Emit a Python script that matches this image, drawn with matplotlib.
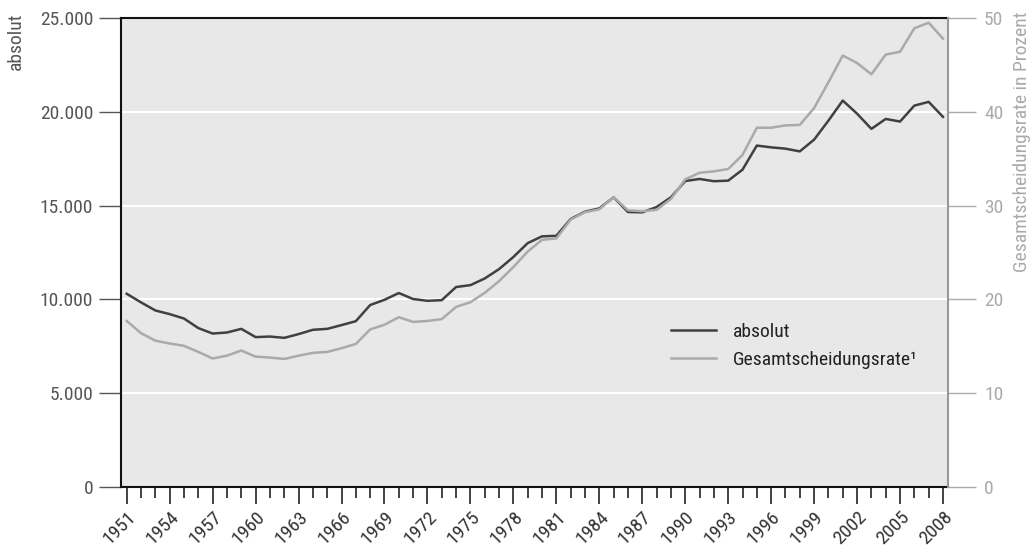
import numpy as np
import matplotlib.pyplot as plt
from matplotlib.ticker import FuncFormatter, MultipleLocator

plt.rcParams['font.family'] = ['Liberation Sans Narrow', 'Roboto Condensed',
                               'Liberation Sans', 'DejaVu Sans']

# Daten
jahre = list(range(1951, 2009))
absolut = [10300, 9840, 9410, 9215, 8980, 8470, 8180, 8235, 8430, 7990,
           8020, 7950, 8150, 8380, 8430, 8630, 8840, 9700, 9980, 10340,
           10020, 9925, 9960, 10660, 10760, 11115, 11615, 12260, 13000, 13360,
           13390, 14285, 14675, 14850, 15440, 14660, 14640, 14925, 15440, 16310,
           16420, 16300, 16330, 16915, 18200, 18105, 18035, 17890, 18515, 19530,
           20600, 19900, 19090, 19620, 19480, 20330, 20530, 19730]
rate = [17.7, 16.4, 15.6, 15.3, 15.05, 14.4, 13.7, 14.0, 14.55, 13.9,
        13.8, 13.65, 14.0, 14.3, 14.4, 14.8, 15.25, 16.8, 17.3, 18.1,
        17.6, 17.7, 17.9, 19.2, 19.7, 20.7, 21.95, 23.45, 25.1, 26.35,
        26.5, 28.5, 29.3, 29.6, 30.9, 29.5, 29.4, 29.55, 30.7, 32.8,
        33.5, 33.65, 33.9, 35.4, 38.3, 38.3, 38.55, 38.6, 40.4, 43.15,
        46.0, 45.2, 44.0, 46.1, 46.4, 48.9, 49.5, 47.8]

fs = 14

fig = plt.figure(figsize=(10.36, 5.52), dpi=100)
ax = fig.add_axes([121 / 1036, 1 - 487 / 552, 827 / 1036, 469 / 552])
ax.set_facecolor('#e8e8e8')

ax2 = ax.twinx()
ax2.plot(jahre, rate, color='#aaaaaa', lw=1.8)
ax.plot([], [], color='#404040', lw=1.8, label='absolut')
ax.plot([], [], color='#aaaaaa', lw=1.8, label='Gesamtscheidungsrate¹')
ax.set_zorder(ax2.get_zorder() - 1)
ax2.patch.set_visible(False)

# dunkle Linie vorne
ax3 = ax.twinx()
ax3.plot(jahre, absolut, color='#404040', lw=1.8)
ax3.set_ylim(0, 25000)
ax3.axis('off')

ax.set_xlim(1950.6, 2008.35)
ax.set_ylim(0, 25000)
ax2.set_ylim(0, 50)

ax.yaxis.set_major_locator(MultipleLocator(5000))
ax.yaxis.set_major_formatter(FuncFormatter(lambda v, p: f'{int(v):,}'.replace(',', '.')))
ax.grid(axis='y', color='white', lw=1.5)
ax.set_axisbelow(True)

ax.set_xticks(jahre[::3])
ax.set_xticks(jahre, minor=True)
ax.set_xticklabels([str(j) for j in jahre[::3]], rotation=45, ha='right',
                   rotation_mode='anchor', fontsize=fs, color='#333333')
ax.tick_params(axis='x', which='major', length=12, width=1.2, color='#222222', pad=3)
ax.tick_params(axis='x', which='minor', length=8, width=1.2, color='#222222')
ax.tick_params(axis='y', length=16, width=1, color='#555555', labelsize=fs,
               labelcolor='#555555', pad=4)

ax2.yaxis.set_major_locator(MultipleLocator(10))
ax2.tick_params(axis='y', length=20, width=1, color='#aaaaaa', labelsize=fs,
                labelcolor='#aaaaaa', pad=6)

for s in ['left', 'bottom', 'top']:
    ax.spines[s].set_color('#111111')
    ax.spines[s].set_linewidth(1.5)
ax.spines['right'].set_visible(False)
for s in ['left', 'bottom', 'top']:
    ax2.spines[s].set_visible(False)
ax2.spines['right'].set_color('#999999')
ax2.spines['right'].set_linewidth(1.5)

fig.text(16 / 1036, 1 - 12 / 552, 'absolut', rotation=90, ha='center', va='top',
         fontsize=fs, color='#555555')
fig.text(1022 / 1036, 1 - 12 / 552, 'Gesamtscheidungsrate in Prozent', rotation=90,
         ha='center', va='top', fontsize=fs, color='#aaaaaa')

leg = ax.legend(loc='center left', bbox_to_anchor=(663 / 1036, 1 - 346 / 552),
                bbox_transform=fig.transFigure, borderaxespad=0,
                frameon=False, fontsize=fs, handlelength=2.3, handletextpad=0.9,
                labelspacing=0.5)
for t in leg.get_texts():
    t.set_color('#222222')

fig.savefig('out.png', dpi=100)
